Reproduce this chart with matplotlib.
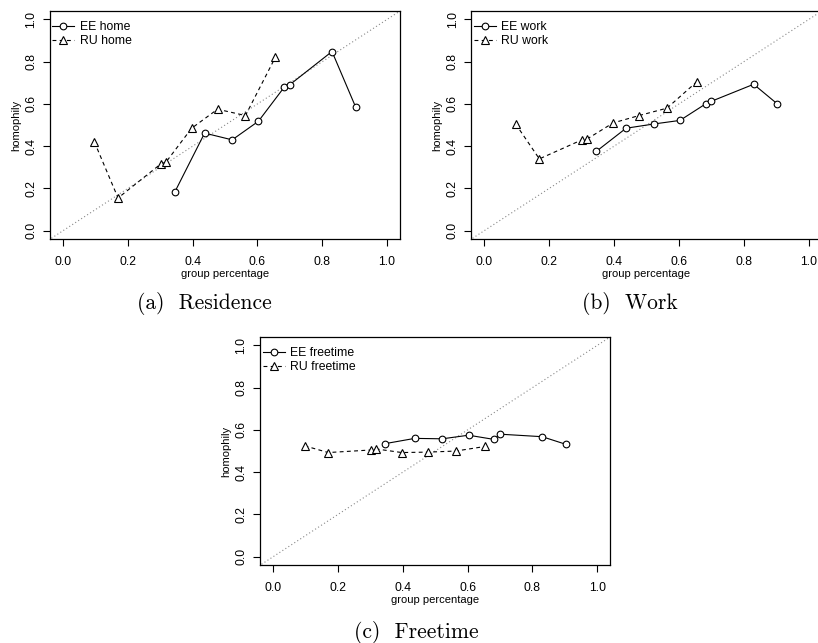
"""Homophily vs group percentage, three panels (residence / work / freetime)."""

import matplotlib

matplotlib.use("Agg")
import matplotlib.pyplot as plt

# ---- data
ee_x = [0.345, 0.437, 0.522, 0.603, 0.682, 0.699, 0.830, 0.903]
ru_x = [0.097, 0.170, 0.301, 0.318, 0.397, 0.477, 0.563, 0.655]

ee_home = [0.183, 0.462, 0.430, 0.518, 0.678, 0.690, 0.848, 0.585]
ru_home = [0.420, 0.155, 0.315, 0.325, 0.485, 0.575, 0.545, 0.820]

ee_work = [0.375, 0.485, 0.505, 0.522, 0.600, 0.612, 0.693, 0.600]
ru_work = [0.505, 0.340, 0.430, 0.435, 0.510, 0.545, 0.580, 0.705]

ee_free = [0.535, 0.560, 0.558, 0.575, 0.555, 0.580, 0.568, 0.532]
ru_free = [0.525, 0.493, 0.505, 0.510, 0.493, 0.495, 0.500, 0.522]

ticks = [0.0, 0.2, 0.4, 0.6, 0.8, 1.0]
tick_labels = ["0.0", "0.2", "0.4", "0.6", "0.8", "1.0"]

plt.rcParams["font.family"] = ["Liberation Sans", "DejaVu Sans"]

fig = plt.figure(figsize=(8.18, 6.43), dpi=100)


def panel(rect, ee, ru, name):
    ax = fig.add_axes(rect)
    ax.plot([-0.1, 1.1], [-0.1, 1.1], color="#888888", linestyle=(0, (1, 2.2)), lw=0.8, zorder=1)
    ax.plot(ee_x, ee, color="black", lw=0.8, marker="o", ms=4.8, mfc="white", mec="black",
            mew=0.8, label=f"EE {name}", zorder=3)
    ax.plot(ru_x, ru, color="black", lw=0.8, linestyle=(0, (3.5, 3)), marker="^", ms=5.4,
            mfc="white", mec="black", mew=0.8, label=f"RU {name}", zorder=3)
    ax.set_xlim(-0.04, 1.04)
    ax.set_ylim(-0.04, 1.04)
    ax.set_xticks(ticks)
    ax.set_xticklabels(tick_labels)
    ax.set_yticks(ticks)
    ax.set_yticklabels(tick_labels, rotation=90, va="center")
    ax.tick_params(direction="out", length=5, width=0.8, labelsize=8.8)
    ax.tick_params(axis="x", pad=7)
    ax.tick_params(axis="y", pad=4)
    for spine in ax.spines.values():
        spine.set_linewidth(0.9)
    ax.set_xlabel("group percentage", fontsize=8, labelpad=1)
    ax.set_ylabel("homophily", fontsize=8, labelpad=3)
    ax.legend(loc="upper left", bbox_to_anchor=(0.0, 0.965), frameon=False, fontsize=8.8,
              handlelength=1.8, handletextpad=0.45, borderaxespad=0, borderpad=0.2,
              labelspacing=0.15)
    return ax


panel([0.0611, 0.628, 0.428, 0.355], ee_home, ru_home, "home")
panel([0.576, 0.628, 0.4287, 0.355], ee_work, ru_work, "work")
panel([0.318, 0.121, 0.428, 0.355], ee_free, ru_free, "freetime")

cap = dict(ha="center", va="center", fontsize=15.5, family="cmr10")
fig.text(204 / 818, 1 - 303 / 643, "(a)  Residence", **cap)
fig.text(630 / 818, 1 - 303 / 643, "(b)  Work", **cap)
fig.text(416 / 818, 1 - 632 / 643, "(c)  Freetime", **cap)

fig.savefig("out.png", dpi=100)
